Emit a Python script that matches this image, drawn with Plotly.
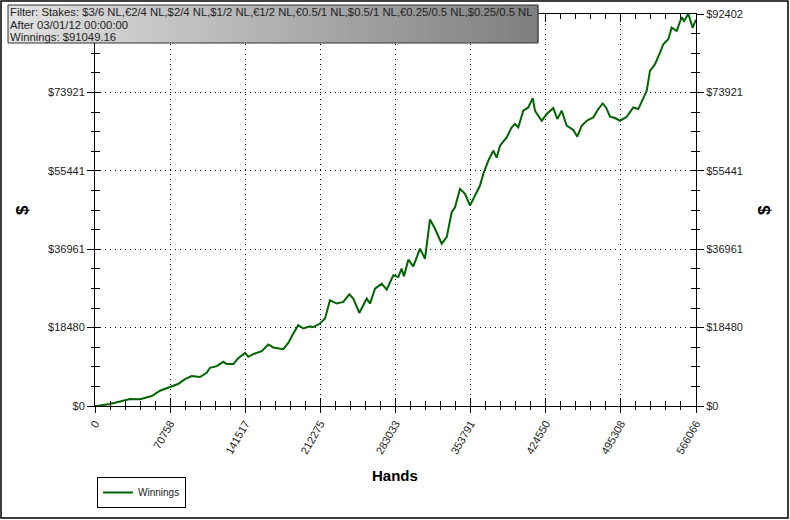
"""Cumulative poker winnings vs. hands played, drawn with Plotly."""

import plotly.graph_objects as go

# Values
hands = [
    0, 1884, 14128, 23547, 32965, 42384, 53404, 61222, 70640, 78175,
    84768, 91079, 98896, 105207, 108315, 114626, 120842, 124044, 130261, 134970,
    141281, 144389, 149098, 157009, 163226, 167935, 177354, 182063, 186773, 191482,
    196191, 202502, 205610, 211921, 216630, 221339, 227650, 233866, 239518, 243286,
    248936, 255906, 259014, 263724, 270034, 274744, 280960, 285670, 288778, 291038,
    295088, 299797, 306108, 310817, 315526, 320236, 326547, 331256, 335965, 339073,
    343783, 348492, 353201, 357911, 362620, 365728, 370437, 375147, 378349, 381457,
    387768, 392477, 395585, 398694, 403403, 408112, 412256, 414423, 420734, 425443,
    431660, 435427, 439571, 444280, 450497, 454264, 458408, 463117, 469334, 474043,
    478187, 481296, 485063, 489772, 494482, 500793, 507009, 511718, 515863, 519629,
    522738, 527447, 532157, 535265, 539974, 543177, 547891, 552595, 554764, 558812,
    562961, 566066,
]
winnings = [
    0, 0, 470, 1011, 1646, 1575, 2351, 3597, 4538, 5173,
    6348, 7054, 6818, 7829, 9005, 9405, 10416, 9875, 9875, 11286,
    12532, 11591, 12226, 12932, 14507, 13802, 13402, 14883, 17093, 19045,
    18269, 18810, 18574, 19444, 20620, 24923, 24147, 24523, 26333, 25322,
    21937, 25322, 24147, 27674, 28849, 27439, 30801, 30401, 32376, 30566,
    34492, 32917, 37078, 34727, 43967, 41781, 38254, 39806, 45684, 46859,
    51186, 50011, 47259, 49610, 51962, 54712, 57840, 60191, 58545, 61366,
    63318, 65669, 66468, 65669, 69596, 70371, 72582, 69596, 67244, 68820,
    70230, 67644, 69596, 66069, 65058, 63482, 66069, 67244, 68020, 69995,
    71312, 70371, 68185, 67879, 67244, 68185, 70371, 69995, 72347, 74298,
    79000, 80576, 83303, 85278, 86454, 89181, 88405, 91697, 90756, 92402,
    89181, 91049.16,
]

x_ticks = [0, 70758, 141517, 212275, 283033, 353791, 424550, 495308, 566066]
x_labels = [str(v) for v in x_ticks]
y_ticks = [0, 18480, 36961, 55441, 73921, 92402]
y_labels = ["$" + str(v) for v in y_ticks]

filter_lines = [
    "Filter: Stakes: $3/6 NL,€2/4 NL,$2/4 NL,$1/2 NL,€1/2 NL,€0.5/1 NL,"
    "$0.5/1 NL,€0.25/0.5 NL,$0.25/0.5 NL",
    "After 03/01/12 00:00:00",
    "Winnings: $91049.16",
]

W, H = 790, 520
L, R, T, B = 95, 94, 14, 114
PW, PH = W - L - R, H - T - B
FONT = "Liberation Sans, Arial, sans-serif"


def px_x(px):
    return (px - L) / PW


def px_y(py):
    return (H - B - py) / PH


x_range = [0, x_ticks[-1]]
y_range = [0, y_ticks[-1]]
tick_font = dict(family=FONT, size=11, color="#222222")

fig = go.Figure()
fig.add_trace(
    go.Scatter(
        x=hands,
        y=winnings,
        mode="lines",
        name="Winnings",
        line=dict(color="#006400", width=2),
    )
)

common_x = dict(range=x_range, tickvals=x_ticks, ticktext=x_labels, zeroline=False)
common_y = dict(range=y_range, tickvals=y_ticks, ticktext=y_labels, zeroline=False)

fig.update_layout(
    width=W,
    height=H,
    margin=dict(l=L, r=R, t=T, b=B, autoexpand=False),
    paper_bgcolor="white",
    plot_bgcolor="white",
    showlegend=True,
    xaxis=dict(
        **common_x,
        tickangle=-60,
        tickfont=tick_font,
        ticks="outside",
        ticklen=6,
        tickcolor="black",
        showline=True,
        linecolor="black",
        linewidth=1,
        mirror=True,
        showgrid=True,
        gridcolor="black",
        gridwidth=1,
        griddash="1px,4px",
        minor=dict(
            tickmode="linear",
            tick0=0,
            dtick=x_ticks[-1] / 40,
            ticks="outside",
            ticklen=3,
            tickcolor="black",
            showgrid=False,
        ),
    ),
    xaxis2=dict(
        **common_x,
        overlaying="x",
        anchor="y",
        side="bottom",
        ticks="inside",
        ticklen=8,
        tickcolor="black",
        mirror="allticks",
        showticklabels=False,
        showgrid=False,
        showline=False,
        minor=dict(
            tickmode="linear",
            tick0=0,
            dtick=x_ticks[-1] / 40,
            ticks="inside",
            ticklen=5,
            tickcolor="black",
            showgrid=False,
        ),
    ),
    yaxis=dict(
        **common_y,
        tickfont=tick_font,
        ticks="outside",
        ticklen=7,
        tickcolor="black",
        showline=True,
        linecolor="black",
        linewidth=1,
        mirror=True,
        showgrid=True,
        gridcolor="black",
        gridwidth=1,
        griddash="1px,4px",
        minor=dict(
            tickmode="linear",
            tick0=0,
            dtick=y_ticks[-1] / 20,
            ticks="outside",
            ticklen=3,
            tickcolor="black",
            showgrid=False,
        ),
    ),
    yaxis2=dict(
        **common_y,
        overlaying="y",
        anchor="x",
        side="right",
        tickfont=tick_font,
        ticks="outside",
        ticklen=7,
        tickcolor="black",
        showgrid=False,
        showline=False,
        minor=dict(
            tickmode="linear",
            tick0=0,
            dtick=y_ticks[-1] / 20,
            ticks="outside",
            ticklen=3,
            tickcolor="black",
            showgrid=False,
        ),
    ),
    yaxis3=dict(
        **common_y,
        overlaying="y",
        anchor="x",
        side="left",
        ticks="inside",
        ticklen=6,
        tickcolor="black",
        mirror="allticks",
        showticklabels=False,
        showgrid=False,
        showline=False,
        minor=dict(
            tickmode="linear",
            tick0=0,
            dtick=y_ticks[-1] / 20,
            ticks="inside",
            ticklen=5,
            tickcolor="black",
            showgrid=False,
        ),
    ),
    legend=dict(
        x=px_x(97),
        y=px_y(508),
        xanchor="left",
        yanchor="bottom",
        bgcolor="white",
        bordercolor="black",
        borderwidth=1,
        font=dict(family=FONT, size=10, color="#222222"),
        itemwidth=30,
        tracegroupgap=0,
    ),
)

# dummy traces so the overlay axes get drawn
fig.add_trace(go.Scatter(x=[], y=[], xaxis="x2", yaxis="y3", showlegend=False))
fig.add_trace(go.Scatter(x=[], y=[], xaxis="x", yaxis="y2", showlegend=False))

shapes = []
# outer frame of the picture
shapes.append(
    dict(
        type="rect", xref="paper", yref="paper",
        x0=px_x(1), x1=px_x(788), y0=px_y(1), y1=px_y(518),
        line=dict(color="black", width=1.5), layer="below",
    )
)
# grey gradient info box, built from thin strips
bx0, bx1, by0, by1 = 8, 538, 5, 43
n_strips = 53
for i in range(n_strips):
    t = i / (n_strips - 1)
    g = int(226 - t * (226 - 128))
    sx0 = bx0 + (bx1 - bx0) * i / n_strips
    sx1 = bx0 + (bx1 - bx0) * (i + 1) / n_strips + 0.6
    shapes.append(
        dict(
            type="rect", xref="paper", yref="paper",
            x0=px_x(sx0), x1=px_x(sx1), y0=px_y(by0), y1=px_y(by1),
            fillcolor=f"rgb({g},{g},{g})", line=dict(width=0), layer="above",
        )
    )
shapes.append(
    dict(
        type="rect", xref="paper", yref="paper",
        x0=px_x(bx0), x1=px_x(bx1), y0=px_y(by0), y1=px_y(by1),
        line=dict(color="#333333", width=1), layer="above",
    )
)
fig.update_layout(shapes=shapes)

annotations = []
for i, txt in enumerate(filter_lines):
    annotations.append(
        dict(
            text=txt, xref="paper", yref="paper",
            x=px_x(8), y=px_y(12.5 + 12 * i),
            xanchor="left", yanchor="middle", showarrow=False,
            font=dict(family=FONT, size=11.3, color="#222222"),
        )
    )
annotations.append(
    dict(
        text="<b>Hands</b>", xref="paper", yref="paper",
        x=px_x(395), y=px_y(475), xanchor="center", yanchor="middle",
        showarrow=False, font=dict(family=FONT, size=15, color="black"),
    )
)
for xpos in (22, 764):
    annotations.append(
        dict(
            text="<b>$</b>", xref="paper", yref="paper",
            x=px_x(xpos), y=px_y(210), xanchor="center", yanchor="middle",
            textangle=-90, showarrow=False,
            font=dict(family=FONT, size=17, color="black"),
        )
    )
fig.update_layout(annotations=annotations)

# the page's default 8px body margin would shift the whole chart
fig.write_html(
    "out.html",
    config={"displayModeBar": False},
    post_script="document.body.style.margin = '0';",
)
